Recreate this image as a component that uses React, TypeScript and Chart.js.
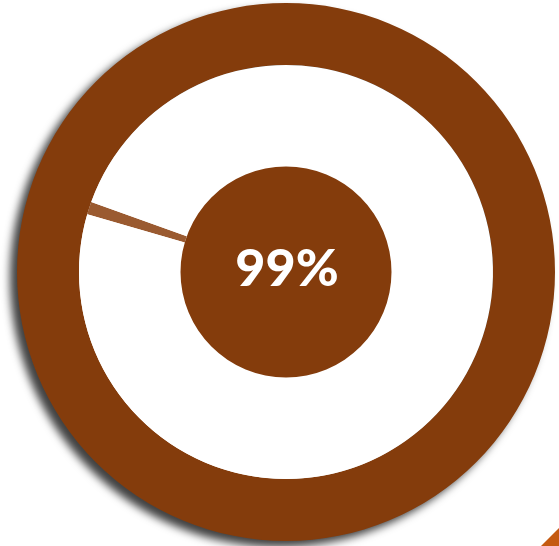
import React, { useEffect, useRef } from "react";
import { Chart, registerables } from "chart.js";

Chart.register(...registerables);

// Data
const percentLabel = "99%";
const ringValues = [100];
const needleValues = [1, 99];
const centerValues = [100];
const needleRotation = 286.2;

const BROWN = "#843C0C";
const NEEDLE = "#9A5A30";

const shadowPlugin = {
  id: "ringShadow",
  beforeDatasetDraw(chart: any, args: any) {
    if (args.index === 0) {
      const ctx = chart.ctx;
      ctx.save();
      ctx.shadowColor = "rgba(0,0,0,0.75)";
      ctx.shadowBlur = 9;
      ctx.shadowOffsetX = -7;
      ctx.shadowOffsetY = 6;
    }
  },
  afterDatasetDraw(chart: any, args: any) {
    if (args.index === 0) {
      chart.ctx.restore();
    }
  },
};

const labelPlugin = {
  id: "centerLabel",
  afterDatasetsDraw(chart: any) {
    const meta = chart.getDatasetMeta(2);
    const arc = meta.data[0];
    if (!arc) return;
    const ctx = chart.ctx;
    ctx.save();
    ctx.fillStyle = "#ffffff";
    ctx.font = "900 52px Lato, 'DejaVu Sans', sans-serif";
    ctx.textAlign = "center";
    ctx.textBaseline = "middle";
    ctx.fillText(percentLabel, arc.x + 1, arc.y - 3);
    ctx.restore();
  },
};

export default function App() {
  const ref = useRef<HTMLCanvasElement>(null);
  useEffect(() => {
    if (!ref.current) return;
    const chart = new Chart(ref.current, {
      type: "doughnut",
      data: {
        datasets: [
          {
            data: ringValues,
            backgroundColor: [BROWN],
            borderWidth: 0,
            weight: 62,
            order: 2,
            clip: false,
          } as any,
          {
            data: needleValues,
            backgroundColor: [NEEDLE, "#ffffff"],
            borderWidth: 0,
            weight: 101.5,
            rotation: needleRotation,
            order: 1,
            clip: false,
          } as any,
          {
            data: centerValues,
            backgroundColor: [BROWN],
            borderWidth: 0,
            weight: 105.5,
            order: 0,
            clip: false,
          } as any,
        ],
      },
      options: {
        responsive: false,
        animation: false,
        cutout: 0,
        layout: { padding: { left: 17, right: 4, top: 3, bottom: 5 } },
        plugins: {
          legend: { display: false },
          tooltip: { enabled: false },
        },
        events: [],
      } as any,
      plugins: [shadowPlugin, labelPlugin],
    });
    return () => chart.destroy();
  }, []);

  return (
    <div
      style={{
        position: "fixed",
        left: 0,
        top: 0,
        width: 559,
        height: 546,
        background: "#ffffff",
        overflow: "hidden",
      }}
    >
      <canvas ref={ref} width={559} height={546} style={{ width: 559, height: 546, display: "block" }} />
      <div
        style={{
          position: "absolute",
          right: 0,
          bottom: 0,
          width: 18,
          height: 18,
          background: "#C55A11",
          clipPath: "polygon(100% 0, 100% 100%, 0 100%)",
        }}
      />
    </div>
  );
}
